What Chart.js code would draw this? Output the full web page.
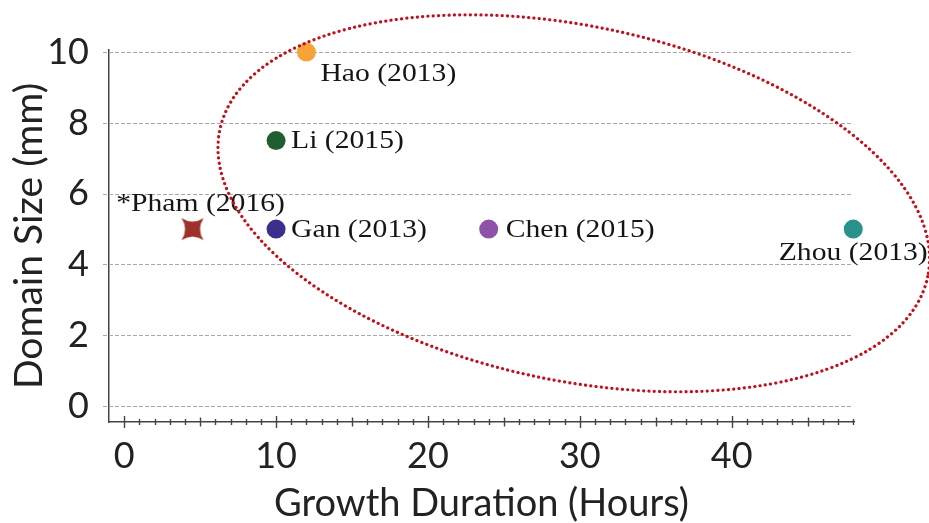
<!DOCTYPE html>
<html><head><meta charset="utf-8">
<script src="https://cdn.jsdelivr.net/npm/chart.js@4/dist/chart.umd.min.js"></script>
<style>html,body{margin:0;padding:0;background:#fff}#wrap{width:929px;height:523px}</style>
</head><body><div id="wrap"><canvas id="c" width="929" height="523"></canvas></div>
<script>
const studies = ['*Pham (2016)', 'Gan (2013)', 'Li (2015)', 'Hao (2013)', 'Chen (2015)', 'Zhou (2013)'];
const durations = [4.5, 10, 10, 12, 24, 48];
const sizes = [5, 5, 7.5, 10, 5, 5];
const colors = ['#a0302a', '#3b2f8e', '#1f5e2e', '#f7a33a', '#8e52a8', '#2a918c'];
const yTicks = [0, 2, 4, 6, 8, 10];
const xTickLabels = [0, 10, 20, 30, 40];
// label placement (pixel offsets, align)
const labelPos = [[8,-25,'center'],[15,1,'left'],[15,1,'left'],[14,22,'left'],[17,1,'left'],[0,24,'center']];
// highlight ellipse in data units
const ell = {cx: 29.6, cy: 5.73, rx: 23.8, ry: 5.01, rot: 11.7};

function starCanvas(color){
  const s=26,c=document.createElement('canvas');c.width=s;c.height=s;
  const g=c.getContext('2d');const m=s/2,r=11,k=4;
  g.fillStyle=color;g.beginPath();
  g.moveTo(m-r,m-r);
  g.quadraticCurveTo(m,m-k,m+r,m-r);
  g.quadraticCurveTo(m+k,m,m+r,m+r);
  g.quadraticCurveTo(m,m+k,m-r,m+r);
  g.quadraticCurveTo(m-k,m,m-r,m-r);
  g.fill();return c;
}
const styles = studies.map((s,i)=> i===0 ? starCanvas(colors[0]) : 'circle');

const plug = {
  id:'extras',
  beforeDatasetsDraw(chart){
    const ctx=chart.ctx, xs=chart.scales.x, ys=chart.scales.y, ca=chart.chartArea;
    ctx.save();
    ctx.strokeStyle='#a8a8a8';ctx.lineWidth=1.2;ctx.setLineDash([4,2]);
    const xe=xs.getPixelForValue(48)-2;
    yTicks.forEach(v=>{
      const py=Math.round(ys.getPixelForValue(v))+0.5;
      ctx.beginPath();ctx.moveTo(ca.left-6,py);ctx.lineTo(xe,py);ctx.stroke();
    });
    ctx.restore();
  },
  afterDraw(chart){
    const ctx=chart.ctx, xs=chart.scales.x, ys=chart.scales.y;
    ctx.save();
    // x ticks
    ctx.strokeStyle='#444';ctx.lineWidth=1.4;
    const yb=chart.chartArea.bottom;
    for(let v=0; v<=48; v++){
      const px=Math.round(xs.getPixelForValue(v))+0.5;
      const h = v%10===0 ? 6 : (v%5===0 ? 4.5 : 3);
      ctx.beginPath();ctx.moveTo(px,yb-h);ctx.lineTo(px,yb+h);ctx.stroke();
    }
    // labels
    ctx.fillStyle='#151515';ctx.font='26px "Liberation Serif", "Times New Roman", serif';
    ctx.textBaseline='middle';
    studies.forEach((s,i)=>{
      const px=xs.getPixelForValue(durations[i]), py=ys.getPixelForValue(sizes[i]);
      const [dx,dy,al]=labelPos[i];
      ctx.save();ctx.translate(px+dx,py+dy);ctx.scale(1.14,1);
      ctx.textAlign=al;ctx.fillText(s,0,0);ctx.restore();
    });
    // ellipse
    const cx=xs.getPixelForValue(ell.cx), cy=ys.getPixelForValue(ell.cy);
    const rx=Math.abs(xs.getPixelForValue(ell.rx)-xs.getPixelForValue(0));
    const ry=Math.abs(ys.getPixelForValue(ell.ry)-ys.getPixelForValue(0));
    ctx.strokeStyle='#c0121c';ctx.lineWidth=3.2;ctx.setLineDash([0.1,5.2]);ctx.lineCap='round';
    ctx.beginPath();ctx.ellipse(cx,cy,rx,ry,ell.rot*Math.PI/180,0,Math.PI*2);ctx.stroke();
    ctx.restore();
  }
};

new Chart(document.getElementById('c'),{
  type:'scatter',
  data:{datasets:[{
    data: durations.map((d,i)=>({x:d,y:sizes[i]})),
    backgroundColor: colors, borderColor: colors,
    pointStyle: styles, pointRadius: 9.5, pointHoverRadius: 9.5, borderWidth:0, clip:false
  }]},
  options:{
    responsive:false, animation:false,
    layout:{padding:{top:50,right:75,left:0,bottom:0}},
    plugins:{legend:{display:false},tooltip:{enabled:false}},
    scales:{
      x:{type:'linear',min:-1,max:48.05,
        afterBuildTicks(s){s.ticks=xTickLabels.map(v=>({value:v}));},
        afterFit(s){s.height=101;},
        grid:{display:false},
        border:{display:true,color:'#444',width:1.5},
        ticks:{font:{family:'Lato',size:36},color:'#222',padding:5,maxRotation:0,autoSkip:false},
        title:{display:true,text:'Growth Duration (Hours)',font:{family:'Lato',size:38,lineHeight:1},color:'#222',padding:{top:1,bottom:0}}
      },
      y:{min:-0.45,max:10.06,
        afterBuildTicks(s){s.ticks=yTicks.map(v=>({value:v}));},
        afterFit(s){s.width=109;},
        grid:{display:false},
        border:{display:true,color:'#444',width:1.5},
        ticks:{font:{family:'Lato',size:36},color:'#222',padding:12},
        title:{display:true,text:'Domain Size (mm)',font:{family:'Lato',size:39,lineHeight:1},color:'#222',padding:{top:10,bottom:0}}
      }
    }
  },
  plugins:[plug]
});
</script></body></html>
